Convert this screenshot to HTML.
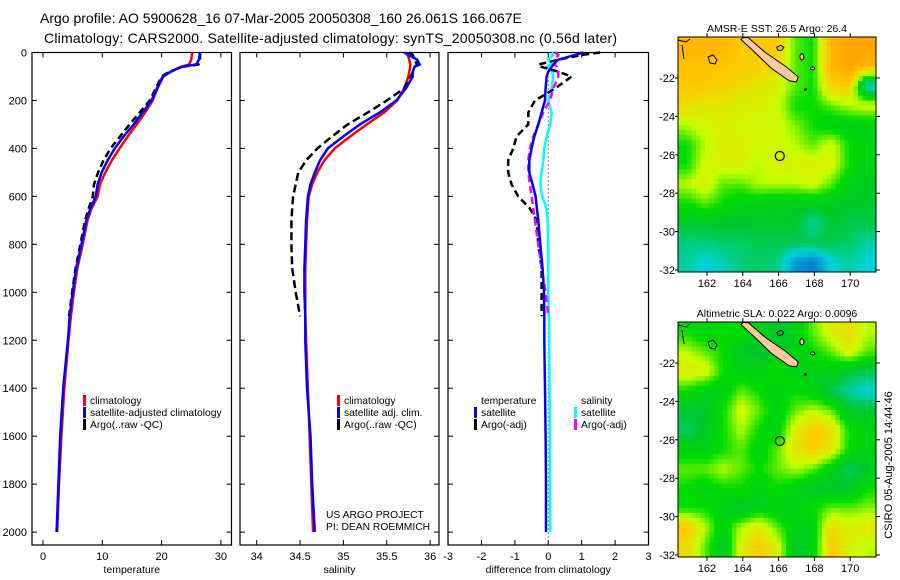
<!DOCTYPE html>
<html><head><meta charset="utf-8"><style>
body{margin:0;background:#fff;}
svg{display:block;font-family:"Liberation Sans",sans-serif;}
text{fill:#000;}
</style></head><body>
<svg id="fig" width="900" height="580" viewBox="0 0 900 580">
<text x="40" y="23" font-size="14">Argo profile: AO 5900628_16 07-Mar-2005 20050308_160 26.061S 166.067E</text>
<text x="44" y="43" font-size="14" textLength="573">Climatology: CARS2000. Satellite-adjusted climatology: synTS_20050308.nc (0.56d later)</text>
<g id="g"></g>
</svg>
<script>
// ---------- data ----------
const depths = [0,10,30,50,60,80,100,150,200,250,300,350,400,450,500,550,600,650,700,800,900,1000,1100,1200,1400,1600,1800,2000];
const depthTicks = [0,200,400,600,800,1000,1200,1400,1600,1800,2000];
const tempClim = [25.2,25.1,25.0,24.6,23.2,21.6,20.3,19.3,18.5,17.2,15.8,14.3,12.9,11.6,10.5,9.6,9.2,8.2,7.5,6.7,5.8,5.2,4.7,4.3,3.6,3.1,2.7,2.4];
const tempSat = [26.4,26.4,26.3,25.8,23.4,21.5,20.2,19.2,18.3,16.8,15.3,13.6,12.1,10.9,9.9,9.2,8.9,8.0,7.3,6.5,5.6,5.0,4.5,4.2,3.4,2.9,2.6,2.3];
const tempArgo = [26.5,26.5,26.5,26.2,23.5,21.3,20.0,19.0,18.0,16.3,14.6,13.0,11.4,10.2,9.3,8.6,8.4,7.7,7.1,6.3,5.5,4.9,4.4];
const salClim = [35.72,35.74,35.76,35.77,35.77,35.76,35.75,35.7,35.62,35.47,35.27,35.08,34.9,34.78,34.7,34.64,34.6,34.59,34.58,34.57,34.56,34.56,34.56,34.57,34.59,34.61,34.63,34.65];
const salSat = [35.7,35.75,35.85,35.88,35.82,35.8,35.8,35.72,35.61,35.42,35.19,35.0,34.82,34.73,34.67,34.62,34.59,34.58,34.57,34.56,34.55,34.55,34.56,34.56,34.58,34.62,34.64,34.67];
const salArgo = [35.75,35.8,35.82,35.85,35.82,35.8,35.78,35.7,35.5,35.28,35.05,34.87,34.7,34.57,34.48,34.45,34.42,34.41,34.4,34.4,34.41,34.45,34.5];
const tempDiffSat = [1.05,0.8,0.3,0.15,0.1,0.0,-0.05,-0.08,-0.1,-0.2,-0.3,-0.42,-0.5,-0.57,-0.57,-0.47,-0.38,-0.34,-0.3,-0.24,-0.17,-0.13,-0.12,-0.12,-0.1,-0.08,-0.07,-0.07];
const salDiffSat = [0.1,0.15,0.0,0.1,-0.05,0.12,0.15,0.1,0.0,0.1,0.06,-0.05,-0.12,-0.15,-0.2,-0.24,-0.18,-0.05,-0.02,0.0,0.0,0.0,0.02,0.03,0.04,0.05,0.05,0.06];
const tempDiffArgo = [1.55,1.0,0.3,-0.3,-0.2,0.3,0.7,0.2,-0.4,-0.6,-0.6,-0.95,-1.05,-1.2,-1.2,-1.1,-0.9,-0.55,-0.35,-0.3,-0.2,-0.2,-0.2];
const salDiffArgo = [0.2,0.3,0.2,0.2,0.25,0.3,0.3,0.15,0.05,-0.15,-0.3,-0.45,-0.55,-0.6,-0.6,-0.55,-0.5,-0.45,-0.4,-0.3,-0.2,-0.08,0.0];
const tempTicks = [0,10,20,30];
const salTicks = ["34","34.5","35","35.5","36"];
const diffTicks = [-3,-2,-1,0,1,2,3];
const lonTicks = [162,164,166,168,170];
const latTicks = [-22,-24,-26,-28,-30,-32];
const sstGrid = [
[0.85,0.85,0.85,0.8,0.8,0.8,0.6,0.55,0.85,0.9,0.9],
[0.82,0.82,0.8,0.8,0.78,0.75,0.6,0.55,0.85,0.9,0.85],
[0.8,0.8,0.78,0.75,0.72,0.7,0.6,0.55,0.78,0.8,0.3],
[0.75,0.72,0.72,0.7,0.7,0.68,0.55,0.55,0.6,0.65,0.68],
[0.65,0.68,0.7,0.68,0.68,0.68,0.62,0.55,0.5,0.5,0.5],
[0.55,0.65,0.7,0.7,0.68,0.68,0.65,0.6,0.68,0.55,0.5],
[0.55,0.68,0.7,0.7,0.65,0.7,0.7,0.7,0.7,0.55,0.5],
[0.65,0.7,0.6,0.6,0.65,0.65,0.65,0.68,0.6,0.5,0.48],
[0.55,0.6,0.55,0.5,0.5,0.48,0.48,0.48,0.48,0.45,0.45],
[0.45,0.45,0.45,0.45,0.45,0.45,0.45,0.35,0.45,0.42,0.42],
[0.38,0.38,0.4,0.4,0.42,0.42,0.42,0.42,0.42,0.4,0.35],
[0.35,0.3,0.33,0.38,0.4,0.38,0.2,0.15,0.3,0.35,0.3]];
const slaGrid = [
[0.55,0.5,0.55,0.55,0.5,0.45,0.5,0.6,0.7,0.75,0.65],
[0.65,0.6,0.55,0.45,0.45,0.45,0.5,0.55,0.6,0.7,0.6],
[0.72,0.7,0.55,0.5,0.5,0.55,0.5,0.5,0.5,0.45,0.42],
[0.55,0.5,0.5,0.6,0.55,0.5,0.55,0.5,0.42,0.35,0.3],
[0.45,0.45,0.55,0.68,0.6,0.5,0.6,0.65,0.6,0.45,0.45],
[0.4,0.45,0.55,0.65,0.55,0.5,0.7,0.8,0.75,0.55,0.5],
[0.5,0.5,0.55,0.6,0.5,0.6,0.72,0.8,0.72,0.55,0.5],
[0.6,0.6,0.65,0.6,0.55,0.6,0.65,0.6,0.5,0.4,0.45],
[0.55,0.5,0.55,0.55,0.5,0.55,0.5,0.45,0.45,0.45,0.55],
[0.55,0.55,0.5,0.45,0.5,0.5,0.5,0.55,0.6,0.6,0.62],
[0.8,0.65,0.5,0.65,0.72,0.6,0.5,0.5,0.75,0.7,0.72],
[0.75,0.6,0.45,0.7,0.8,0.7,0.45,0.5,0.8,0.7,0.65]];
const floatLon = 166.067, floatLat = -26.061;

// ---------- helpers ----------
const NS="http://www.w3.org/2000/svg";
const G=document.getElementById('g');
function mk(tag,attrs,parent){const e=document.createElementNS(NS,tag);for(const k in attrs)e.setAttribute(k,attrs[k]);(parent||G).appendChild(e);return e;}
const TOP=52.5, BOT=545;
const yD = d => TOP + d*0.2398;

function panel(name,x0,x1,xs,ticks,tickLabels,xlabel){
  const fr=mk('rect',{x:x0,y:TOP,width:x1-x0,height:BOT-TOP,fill:'none',stroke:'#000','stroke-width':1.2});
  
  
  ticks.forEach((t,i)=>{
    const x=xs(+t);
    mk('line',{x1:x,x2:x,y1:BOT,y2:BOT-5,stroke:'#000'});
    mk('line',{x1:x,x2:x,y1:TOP,y2:TOP+5,stroke:'#000'});
    const tx=mk('text',{x:x,y:560,'font-size':11,'text-anchor':'middle'});
    tx.textContent=tickLabels[i];
    
    
  });
  depthTicks.forEach(d=>{
    mk('line',{x1:x0,x2:x0+5,y1:yD(d),y2:yD(d),stroke:'#000'});
    mk('line',{x1:x1,x2:x1-5,y1:yD(d),y2:yD(d),stroke:'#000'});
  });
  const xl=mk('text',{x:(x0+x1)/2,y:573,'font-size':10.5,'text-anchor':'middle'});
  xl.textContent=xlabel;
  
  
}
function line(vals,xs,color,w,dash,name){
  const pts=vals.map((v,i)=>xs(v).toFixed(1)+','+yD(depths[i]).toFixed(1)).join(' ');
  const p=mk('polyline',{points:pts,fill:'none',stroke:color,'stroke-width':w,'stroke-dasharray':dash||'none'});
  
  
}
function legend(items,x,y){
  items.forEach((it,i)=>{
    const yy=y+i*12;
    if(it[1]) mk('rect',{x:x,y:yy-9,width:3,height:11,fill:it[1]});
    const t=mk('text',{x:x+7,y:yy,'font-size':10.3});
    t.textContent=it[0];
    
    
  });
}

depthTicks.forEach(d=>{
  const t=mk('text',{x:27,y:yD(d)+4,'font-size':11,'text-anchor':'end'});
  t.textContent=d;
  
  
});

const xT=v=>43+v*5.93;
panel('temperature-panel',32,231.5,xT,tempTicks,tempTicks,'temperature');
line(tempClim,xT,'#f00',2.5,null,'temperature-climatology-line');
line(tempArgo,xT,'#000',2.5,'7,4','temperature-argo-line');
line(tempSat,xT,'#00f',2.5,null,'temperature-satellite-line');
legend([['climatology','#f00'],['satellite-adjusted climatology','#00f'],['Argo(..raw -QC)','#000']],83,404);

const xS=v=>256.7+(v-34)*86.7;
panel('salinity-panel',240,439,xS,salTicks,salTicks,'salinity');
line(salClim,xS,'#f00',2.5,null,'salinity-climatology-line');
line(salArgo,xS,'#000',2.5,'8,4','salinity-argo-line');
line(salSat,xS,'#00f',2.5,null,'salinity-satellite-line');
legend([['climatology','#f00'],['satellite adj. clim.','#00f'],['Argo(..raw -QC)','#000']],337,404);
const ua=mk('text',{x:326,y:518,'font-size':10.3});ua.textContent='US ARGO PROJECT';

const pi=mk('text',{x:326,y:530,'font-size':10.3});pi.textContent='PI: DEAN ROEMMICH';


const xDf=v=>548.3+v*33.4;
panel('difference-panel',448,648.5,xDf,diffTicks,diffTicks,'difference from climatology');
mk('line',{x1:xDf(0),x2:xDf(0),y1:TOP,y2:BOT,stroke:'#000','stroke-dasharray':'1,3'});
line(salDiffSat,xDf,'#0ff',2.5,null,'salinity-diff-satellite-line');
line(tempDiffArgo,xDf,'#000',2.5,'7,4','temperature-diff-argo-line');
line(salDiffArgo,xDf,'#f0f',2.5,'7,4','salinity-diff-argo-line');
line(tempDiffSat,xDf,'#00f',2.5,null,'temperature-diff-satellite-line');
legend([['temperature',null],['satellite','#00f'],['Argo(-adj)','#000']],474,404);
legend([['salinity',null],['satellite','#0ff'],['Argo(-adj)','#f0f']],574,404);

// ---------- maps ----------
function cmap(v){
  const stops=[[0,[0,40,200]],[0.3,[0,210,220]],[0.45,[0,200,40]],[0.55,[0,220,0]],[0.66,[200,255,0]],[0.8,[255,200,0]],[1,[255,130,0]]];
  for(let i=1;i<stops.length;i++){if(v<=stops[i][0]){const a=stops[i-1],b=stops[i];const t=(v-a[0])/(b[0]-a[0]);
    return 'rgb('+a[1].map((c,j)=>Math.round(c+(b[1][j]-c)*t)).join(',')+')';}}
  return 'rgb(255,130,0)';
}
function sample(grid,fr,fc){
  const rows=grid.length, cols=grid[0].length;
  const r=Math.max(0,Math.min(rows-1,fr)), c=Math.max(0,Math.min(cols-1,fc));
  const r0=Math.floor(r), c0=Math.floor(c), r1=Math.min(rows-1,r0+1), c1=Math.min(cols-1,c0+1);
  const tr=r-r0, tc=c-c0;
  return (grid[r0][c0]*(1-tc)+grid[r0][c1]*tc)*(1-tr)+(grid[r1][c0]*(1-tc)+grid[r1][c1]*tc)*tr;
}
function map(name,top,grid,title){
  const L=678,R=876,H=235;
  const lonX=lon=>707+(lon-162)*17.9;
  const latY=lat=>top+41+(-22-lat)*19.2;
  const rows=grid.length, cols=grid[0].length, sub=4;
  const nr=rows*sub, nc=cols*sub, cw=(R-L)/nc, ch=H/nr;
  const g=mk('g',{});
  
  
  for(let r=0;r<nr;r++)for(let c=0;c<nc;c++){
    const v=sample(grid,(r+0.5)/sub-0.5,(c+0.5)/sub-0.5);
    const cell=mk('rect',{x:L+c*cw,y:top+r*ch,width:cw+0.4,height:ch+0.4,fill:cmap(v)},g);
    
    
  }
  const land=mk('polygon',{points:[[164,-19.9],[164.3,-19.9],[165.3,-20.7],[166.4,-21.4],[167.1,-21.95],[167.0,-22.2],[166.6,-22.15],[165.6,-21.5],[164.6,-20.6],[163.9,-20.0]].map(p=>lonX(p[0])+','+latY(p[1])).join(' '),fill:'#fc9',stroke:'#000','stroke-width':1},g);
  
  
  mk('path',{d:`M${lonX(165.9)} ${latY(-20.4)} l4 -2 l3 2 l-2 3 l-4 0 z`,fill:'none',stroke:'#000'},g);
  mk('ellipse',{cx:lonX(167.3),cy:latY(-20.9),rx:2,ry:3,fill:'#fc9',stroke:'#000'},g);
  mk('ellipse',{cx:lonX(167.9),cy:latY(-21.5),rx:2,ry:1.5,fill:'#fc9',stroke:'#000'},g);
  mk('circle',{cx:lonX(167.5),cy:latY(-22.6),r:1.5,fill:'#000'},g);
  mk('path',{d:`M${L} ${top+3} l8 2 l4 -3 M${L+4} ${top+8} l2 14`,fill:'none',stroke:'#000'},g);
  mk('path',{d:`M${L+30} ${top+20} l5 -2 l4 5 l-2 4 l-5 -1 z`,fill:'none',stroke:'#000'},g);
  const fl=mk('circle',{cx:lonX(floatLon),cy:latY(floatLat),r:4.5,fill:'none',stroke:'#000','stroke-width':1.2},g);
  
  
  mk('rect',{x:L,y:top,width:R-L,height:H,fill:'none',stroke:'#000','stroke-width':1},g);
  lonTicks.forEach(lon=>{
    const x=lonX(lon);
    mk('line',{x1:x,x2:x,y1:top+H,y2:top+H+4,stroke:'#000'},g);
    mk('line',{x1:x,x2:x,y1:top,y2:top-4,stroke:'#000'},g);
    const t=mk('text',{x:x,y:top+H+15,'font-size':11,'text-anchor':'middle'},g);t.textContent=lon;
    
  });
  latTicks.forEach(lat=>{
    const y=latY(lat);
    mk('line',{x1:L,x2:L-3,y1:y,y2:y,stroke:'#000'},g);
    mk('line',{x1:R,x2:R+4,y1:y,y2:y,stroke:'#000'},g);
    const t=mk('text',{x:675,y:y+4,'font-size':11,'text-anchor':'end'},g);t.textContent=lat;
    
  });
  const tt=mk('text',{x:(L+R)/2,y:top-5,'font-size':10.5,'text-anchor':'middle'},g);tt.textContent=title;
  
}
map('sst-map',37,sstGrid,'AMSR-E SST: 26.5 Argo: 26.4');
map('sla-map',322,slaGrid,'Altimetric SLA: 0.022 Argo: 0.0096');
const cs=mk('text',{x:0,y:0,'font-size':11,'text-anchor':'middle',transform:'translate(892,465) rotate(-90)'});
cs.textContent='CSIRO 05-Aug-2005 14:44:46';


</script>
</body></html>
